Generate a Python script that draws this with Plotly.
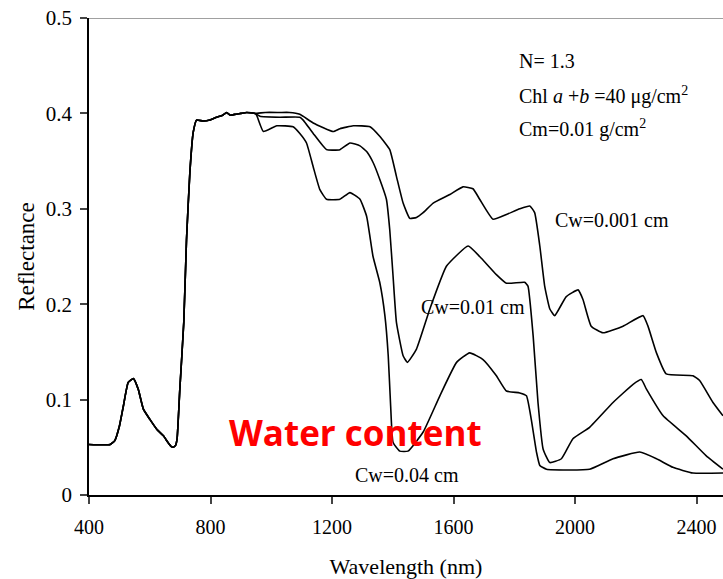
import plotly.graph_objects as go

# Shared visible/red-edge part of the simulated leaf spectra (nm, reflectance)
wl_common = [400, 470, 485, 500, 513, 529, 546, 562, 579, 601, 623, 645, 660, 670, 677,
             685, 690, 699, 712, 721, 732, 743, 754, 775, 798, 820, 840, 853, 865, 880,
             900, 919, 946]
r_common = [0.053, 0.053, 0.057, 0.072, 0.093, 0.118, 0.122, 0.111, 0.090, 0.079, 0.069,
            0.062, 0.055, 0.051, 0.050, 0.052, 0.059, 0.111, 0.181, 0.268, 0.338, 0.380,
            0.393, 0.392, 0.393, 0.396, 0.398, 0.401, 0.398, 0.399, 0.400, 0.401, 0.400]

# Cw = 0.001 cm
wl_cw001 = [980, 1028, 1060, 1094, 1138, 1204, 1226, 1270, 1325, 1357, 1390, 1412, 1434,
            1456, 1478, 1500, 1533, 1588, 1631, 1664, 1686, 1730, 1774, 1818, 1851, 1867,
            1884, 1900, 1917, 1933, 1971, 2010, 2026, 2053, 2092, 2158, 2224, 2240, 2268,
            2300, 2388, 2410, 2454, 2487]
r_cw001 = [0.401, 0.401, 0.401, 0.399, 0.390, 0.381, 0.384, 0.387, 0.386, 0.376, 0.362,
           0.334, 0.306, 0.290, 0.291, 0.296, 0.306, 0.315, 0.323, 0.321, 0.310, 0.289,
           0.294, 0.300, 0.303, 0.296, 0.261, 0.219, 0.195, 0.188, 0.208, 0.215, 0.205,
           0.177, 0.170, 0.177, 0.188, 0.177, 0.149, 0.127, 0.125, 0.120, 0.097, 0.083]

# Cw = 0.01 cm
wl_cw01 = [963, 1028, 1094, 1105, 1138, 1182, 1226, 1259, 1292, 1314, 1336, 1357, 1379,
           1390, 1401, 1412, 1434, 1448, 1478, 1522, 1577, 1648, 1686, 1741, 1774, 1834,
           1845, 1862, 1878, 1895, 1917, 1955, 1993, 2048, 2125, 2191, 2218, 2235, 2290,
           2366, 2432, 2487]
r_cw01 = [0.397, 0.396, 0.396, 0.393, 0.379, 0.362, 0.362, 0.369, 0.366, 0.360, 0.348,
          0.331, 0.310, 0.278, 0.229, 0.181, 0.146, 0.139, 0.153, 0.195, 0.240, 0.261,
          0.250, 0.231, 0.222, 0.223, 0.219, 0.167, 0.097, 0.048, 0.034, 0.038, 0.059,
          0.071, 0.097, 0.116, 0.121, 0.111, 0.083, 0.062, 0.041, 0.027]

# Cw = 0.04 cm
wl_cw04 = [952, 974, 1018, 1072, 1094, 1116, 1138, 1160, 1182, 1226, 1259, 1292, 1314,
           1335, 1357, 1374, 1385, 1393, 1401, 1423, 1450, 1500, 1555, 1610, 1653, 1697,
           1741, 1774, 1818, 1840, 1856, 1873, 1884, 1906, 2048, 2125, 2213, 2268, 2322,
           2388, 2487]
r_cw04 = [0.398, 0.381, 0.387, 0.386, 0.379, 0.369, 0.344, 0.320, 0.310, 0.310, 0.317,
          0.310, 0.292, 0.250, 0.223, 0.188, 0.146, 0.093, 0.055, 0.046, 0.046, 0.066,
          0.104, 0.139, 0.149, 0.142, 0.125, 0.109, 0.107, 0.104, 0.079, 0.045, 0.031,
          0.027, 0.027, 0.038, 0.045, 0.038, 0.029, 0.023, 0.023]

x_ticks = [400, 800, 1200, 1600, 2000, 2400]
y_ticks = [0, 0.1, 0.2, 0.3, 0.4, 0.5]
y_tick_text = ["0", "0.1", "0.2", "0.3", "0.4", "0.5"]

SERIF = "Liberation Serif, Times New Roman, serif"

fig = go.Figure()
for wl_b, r_b, name in [(wl_cw001, r_cw001, "Cw=0.001 cm"),
                        (wl_cw01, r_cw01, "Cw=0.01 cm"),
                        (wl_cw04, r_cw04, "Cw=0.04 cm")]:
    fig.add_trace(go.Scatter(x=wl_common + wl_b, y=r_common + r_b, mode="lines",
                             name=name,
                             line=dict(color="black", width=1.6, shape="spline",
                                       smoothing=0.4),
                             showlegend=False))

# Curve labels
for x, y, t in [(1927, 0.288, "Cw=0.001 cm"),
                (1486, 0.197, "Cw=0.01 cm"),
                (1268, 0.021, "Cw=0.04 cm")]:
    fig.add_annotation(x=x, y=y, text=t, showarrow=False, xanchor="left",
                       yanchor="middle", font=dict(family=SERIF, size=20, color="black"))

# Leaf parameters
for y, t in [(0.455, "N= 1.3"),
             (0.419, "Chl <i>a</i> +<i>b</i> =40 μg/cm<sup>2</sup>"),
             (0.384, "Cm=0.01 g/cm<sup>2</sup>")]:
    fig.add_annotation(x=1809, y=y, text=t, showarrow=False, xanchor="left",
                       yanchor="middle", font=dict(family=SERIF, size=20, color="black"))

fig.add_annotation(x=1276, y=0.066, text="<b>Water content</b>", showarrow=False,
                   xanchor="center", yanchor="middle",
                   font=dict(family="Open Sans, Lato, sans-serif", size=35, color="#ff0000"))

# Top frame line
fig.add_shape(type="line", xref="paper", yref="y", x0=0, x1=1, y0=0.5, y1=0.5,
              line=dict(color="#808080", width=1.5))

fig.update_layout(
    width=723, height=579,
    margin=dict(l=89, r=0, t=18, b=84),
    paper_bgcolor="white", plot_bgcolor="white",
    font=dict(family=SERIF, size=21, color="black"),
    xaxis=dict(range=[400, 2487], tickvals=x_ticks, ticks="outside", ticklen=7,
               tickwidth=1.5, showline=True, linecolor="black", linewidth=1.5,
               showgrid=False, zeroline=False, tickfont=dict(size=20),
               ticklabelstandoff=6,
               title=dict(text="Wavelength (nm)", standoff=22,
                          font=dict(family=SERIF, size=22))),
    yaxis=dict(range=[0, 0.5], tickvals=y_ticks, ticktext=y_tick_text, ticks="outside",
               ticklen=7, tickwidth=1.5, showline=True, linecolor="black", linewidth=1.5,
               showgrid=False, zeroline=False, tickfont=dict(size=21),
               ticklabelstandoff=4,
               title=dict(text="Reflectance", standoff=5,
                          font=dict(family=SERIF, size=23))),
)

fig.write_html("out.html")
